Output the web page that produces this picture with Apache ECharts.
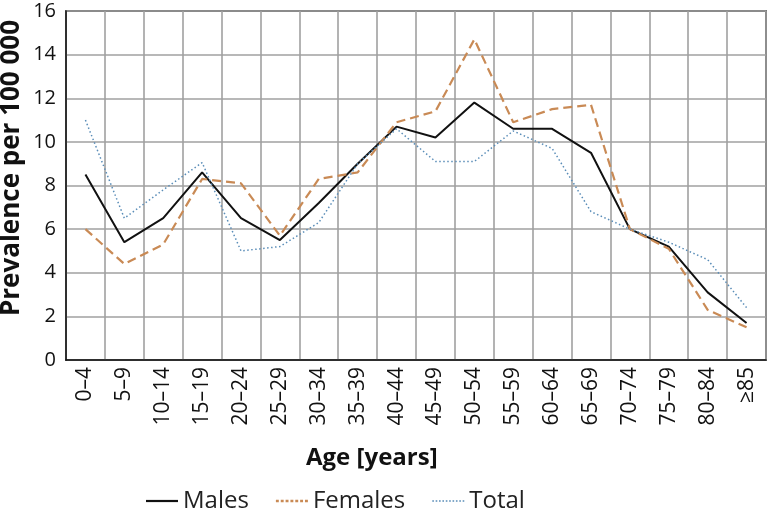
<!DOCTYPE html>
<html>
<head>
<meta charset="utf-8">
<script src="https://cdn.jsdelivr.net/npm/echarts@6/dist/echarts.min.js"></script>
<style>html,body{margin:0;padding:0;background:#fff}#c{width:768px;height:514px}</style>
</head>
<body>
<div id="c"></div>
<script>
const categories = ['0–4','5–9','10–14','15–19','20–24','25–29','30–34','35–39','40–44','45–49','50–54','55–59','60–64','65–69','70–74','75–79','80–84','≥85'];
const males   = [8.5, 5.4, 6.5, 8.6, 6.5, 5.5, 7.2, 9.0, 10.7, 10.2, 11.8, 10.6, 10.6, 9.5, 6.0, 5.2, 3.1, 1.7];
const females = [6.0, 4.4, 5.3, 8.3, 8.1, 5.7, 8.3, 8.6, 10.9, 11.4, 14.7, 10.9, 11.5, 11.7, 6.0, 5.1, 2.3, 1.5];
const total   = [11.0, 6.5, 7.8, 9.05, 5.0, 5.2, 6.3, 9.0, 10.6, 9.1, 9.1, 10.5, 9.7, 6.8, 6.0, 5.4, 4.6, 2.4];
const yTicks = {min: 0, max: 16, interval: 2};
const yTitle = 'Prevalence per 100 000';
const xTitle = 'Age [years]';

const FONT = '"Open Sans", "Noto Sans", sans-serif';

function dotsPath(n, step, w, h) {
  let p = 'path://';
  for (let i = 0; i < n; i++) p += 'M' + (i * step) + ',0h' + w + 'v' + h + 'h-' + w + 'z';
  return p;
}
const solidIcon = 'path://M0,0H32V2.2H0Z';
const femIcon = dotsPath(7, 5, 3, 2.5);
const totIcon = dotsPath(10, 3.3, 1.6, 1.6);

const chart = echarts.init(document.getElementById('c'));
chart.setOption({
  animation: false,
  textStyle: {fontFamily: FONT},
  grid: {left: 66, right: 2, top: 11, bottom: 154, show: true, borderColor: '#111', borderWidth: 1.5,
         containLabel: false, outerBoundsMode: 'none'},
  title: {
    text: xTitle, left: 306, top: 446, padding: 0,
    textStyle: {fontFamily: FONT, fontSize: 24, fontWeight: 'bold', color: '#111'}
  },
  graphic: [{
    type: 'text', x: 12, y: 168, rotation: Math.PI / 2,
    style: {text: yTitle, font: 'bold 26px ' + FONT, fill: '#111', align: 'center', verticalAlign: 'middle'}
  }],
  legend: {
    left: 146, top: 489, itemWidth: 32, itemHeight: 14, itemGap: 27, padding: 0,
    textStyle: {fontFamily: FONT, fontSize: 24, color: '#222'},
    data: [
      {name: 'Males', icon: solidIcon},
      {name: 'Females', icon: femIcon},
      {name: 'Total', icon: totIcon}
    ]
  },
  xAxis: {
    type: 'category', data: categories, boundaryGap: true,
    axisLine: {show: true, lineStyle: {color: '#111', width: 1.5}},
    axisTick: {show: false},
    axisLabel: {rotate: 90, fontSize: 21, color: '#111', margin: 7, interval: 0},
    splitLine: {show: true, interval: 0, lineStyle: {color: '#a0a0a0', width: 1.6}}
  },
  yAxis: {
    type: 'value', min: yTicks.min, max: yTicks.max, interval: yTicks.interval,
    axisLine: {show: true, lineStyle: {color: '#111', width: 1.5}},
    axisTick: {show: false},
    axisLabel: {fontSize: 20, color: '#111', margin: 10},
    splitLine: {show: true, lineStyle: {color: '#a0a0a0', width: 1.6}}
  },
  series: [
    {name: 'Males', type: 'line', data: males, symbol: 'none',
     lineStyle: {color: '#111', width: 2}, itemStyle: {color: '#111'}},
    {name: 'Females', type: 'line', data: females, symbol: 'none',
     lineStyle: {color: '#c98a55', width: 2.2, type: [9, 5]}, itemStyle: {color: '#c98a55'}},
    {name: 'Total', type: 'line', data: total, symbol: 'none',
     lineStyle: {color: '#5a8db8', width: 1.5, type: [1.5, 2.5]}, itemStyle: {color: '#5a8db8'}}
  ]
});
</script>
</body>
</html>
